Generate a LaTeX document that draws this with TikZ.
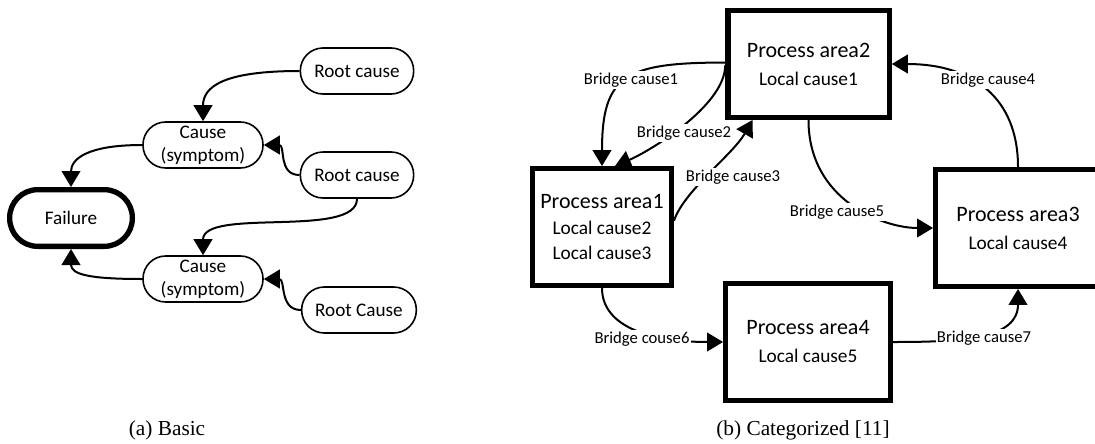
\documentclass[tikz,border=0pt]{standalone}
\usepackage{fontspec}
\setmainfont{Carlito}
\newfontfamily\capfont{Liberation Serif}
\usetikzlibrary{arrows.meta,positioning}

\newcommand{\lcf}{\fontsize{14.5}{\baselineskip}\selectfont}

\tikzset{
  pill/.style={draw, line width=1.2pt, rounded corners=17pt, minimum width=85pt, minimum height=34.5pt, inner sep=0pt, align=center, font=\fontsize{14.4}{17}\selectfont},
  fail/.style={pill, line width=4pt, rounded corners=21pt, minimum width=92pt, minimum height=42.5pt},
  area/.style={draw, line width=4pt, minimum height=87.4pt, inner sep=0pt, align=center, font=\fontsize{16.5}{21}\selectfont},
  arr/.style={draw, line width=1.5pt, -{Triangle[length=12pt,width=14pt]}},
  lbl/.style={fill=white, inner sep=1pt, font=\fontsize{12.5}{14}\selectfont},
  capt/.style={inner sep=0pt, font=\capfont\fontsize{16}{19}\selectfont}
}

\begin{document}
\begin{tikzpicture}[x=0.75pt,y=-0.75pt]
\useasboundingbox (0,0) rectangle (1095,443);

\node[pill] (rc1) at (357,71) {Root cause};
\node[pill, minimum width=90pt] (c1) at (203,145) {Cause\\(symptom)};
\node[pill] (rc2) at (357,175) {Root cause};
\node[fail] (fail) at (71,218) {Failure};
\node[pill, minimum width=90pt] (c2) at (203,279) {Cause\\(symptom)};
\node[pill, minimum width=86pt] (rc3) at (359,310) {Root Cause};

\path[arr] (rc1.west) .. controls +(-75,0) and +(0,-35) .. (c1.north);
\path[arr] (c1.west) .. controls +(-55,0) and +(0,-28) .. (fail.north);
\path[arr] (rc2.west) .. controls +(-22,0) and +(22,0) .. (c1.east);
\path[arr] (rc2.south) .. controls +(0,40) and +(0,-48) .. (c2.north);
\path[arr] (c2.west) .. controls +(-55,0) and +(0,25) .. (fail.south);
\path[arr] (rc3.west) .. controls +(-22,0) and +(22,0) .. (c2.east);

\node[area, minimum width=121pt, minimum height=80pt] (pa2) at (808.5,64) {Process area2\\\lcf Local cause1};
\node[area, minimum width=104pt, font=\fontsize{16.5}{19}\selectfont] (pa1) at (602,227) {Process area1\\\lcf Local cause2\\\lcf Local cause3};
\node[area, minimum width=123.4pt] (pa3) at (1018,228) {Process area3\\\lcf Local cause4};
\node[area, minimum width=123.4pt] (pa4) at (808,342) {Process area4\\\lcf Local cause5};

\path[arr] (pa2.179) .. controls +(-100,0) and +(0,-91) .. (pa1.north);
\path[arr] (pa2.181) .. controls +(0,40) and +(35,-15) .. (pa1.78);
\path[arr] (pa1.5) .. controls +(10,-30) and +(-20,35) .. (pa2.225);
\path[arr] (pa3.north) .. controls +(0,-70) and +(80,0) .. (pa2.east);
\path[arr] (pa2.south) .. controls +(0,80) and +(-50,0) .. (pa3.west);
\path[arr] (pa1.south) .. controls +(0,40) and +(-70,0) .. (pa4.west);
\path[arr] (pa4.east) .. controls +(70,0) and +(0,50) .. (pa3.south);

\node[lbl] (bc1) at (631,80) {Bridge cause1};
\node[lbl] (bc2) at (684,133) {Bridge cause2};
\node[lbl] (bc3) at (733,177) {Bridge cause3};
\node[lbl] (bc4) at (988,80) {Bridge cause4};
\node[lbl] (bc5) at (837,212) {Bridge cause5};
\node[lbl] (bc6) at (642,339) {Bridge couse6};
\node[lbl] (bc7) at (984,338) {Bridge cause7};

\node[capt] (capa) at (167,430) {(a) Basic};
\node[capt] (capb) at (803,430) {(b) Categorized [11]};

\end{tikzpicture}
\end{document}
